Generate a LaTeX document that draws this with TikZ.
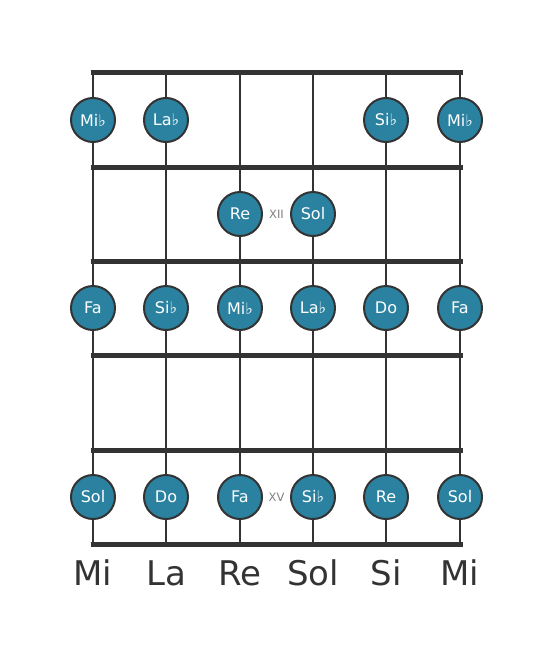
\documentclass[tikz,border=0pt]{standalone}
\usepackage{fontspec}
\setmainfont{DejaVu Sans}
\usepackage{tikz}
\usetikzlibrary{positioning}
\definecolor{noteblue}{RGB}{42,130,160}
\definecolor{wire}{RGB}{51,51,51}

\begin{document}
\begin{tikzpicture}[x=1pt,y=-1pt]

% Define styles
\tikzstyle{note} = [circle, minimum size=44pt, inner sep=0pt, draw=wire, line width=2pt, fill=noteblue, text=white, font=\fontsize{16}{16}\selectfont]
\tikzstyle{fret} = [draw=wire, line width=5pt]
\tikzstyle{string} = [draw=wire, line width=2.5pt]
\tikzstyle{marker} = [text=gray, font=\fontsize{11.5}{11.5}\selectfont]
\tikzstyle{tuning} = [text=wire, font=\fontsize{34}{34}\selectfont]

\useasboundingbox (0,0) rectangle (553,656);

% Strings and frets
\foreach \x in {93,166,240,313,386,460}
  \draw [string] (\x,72) -- (\x,544);
\foreach \y in {72,167,261,355,450,544}
  \draw [fret] (90.5,\y) -- (462.5,\y);

% Fret 1
\node (s1f1) [note] at (93,120) {Mi♭};
\node (s2f1) [note] at (166,120) {La♭};
\node (s5f1) [note] at (386,120) {Si♭};
\node (s6f1) [note] at (460,120) {Mi♭};

% Fret 2
\node (s3f2) [note] at (240,214) {Re};
\node (s4f2) [note] at (313,214) {Sol};
\node (xii) [marker] at (276.5,214) {XII};

% Fret 3
\node (s1f3) [note] at (93,308) {Fa};
\node (s2f3) [note] at (166,308) {Si♭};
\node (s3f3) [note] at (240,308) {Mi♭};
\node (s4f3) [note] at (313,308) {La♭};
\node (s5f3) [note] at (386,308) {Do};
\node (s6f3) [note] at (460,308) {Fa};

% Fret 5
\node (s1f5) [note] at (93,497) {Sol};
\node (s2f5) [note] at (166,497) {Do};
\node (s3f5) [note] at (240,497) {Fa};
\node (s4f5) [note] at (313,497) {Si♭};
\node (s5f5) [note] at (386,497) {Re};
\node (s6f5) [note] at (460,497) {Sol};
\node (xv) [marker] at (276.5,497) {XV};

% Open strings
\node (t1) [tuning] at (93,573) {Mi};
\node (t2) [tuning] at (166,573) {La};
\node (t3) [tuning] at (240,573) {Re};
\node (t4) [tuning] at (313,573) {Sol};
\node (t5) [tuning] at (386,573) {Si};
\node (t6) [tuning] at (460,573) {Mi};

\end{tikzpicture}
\end{document}
